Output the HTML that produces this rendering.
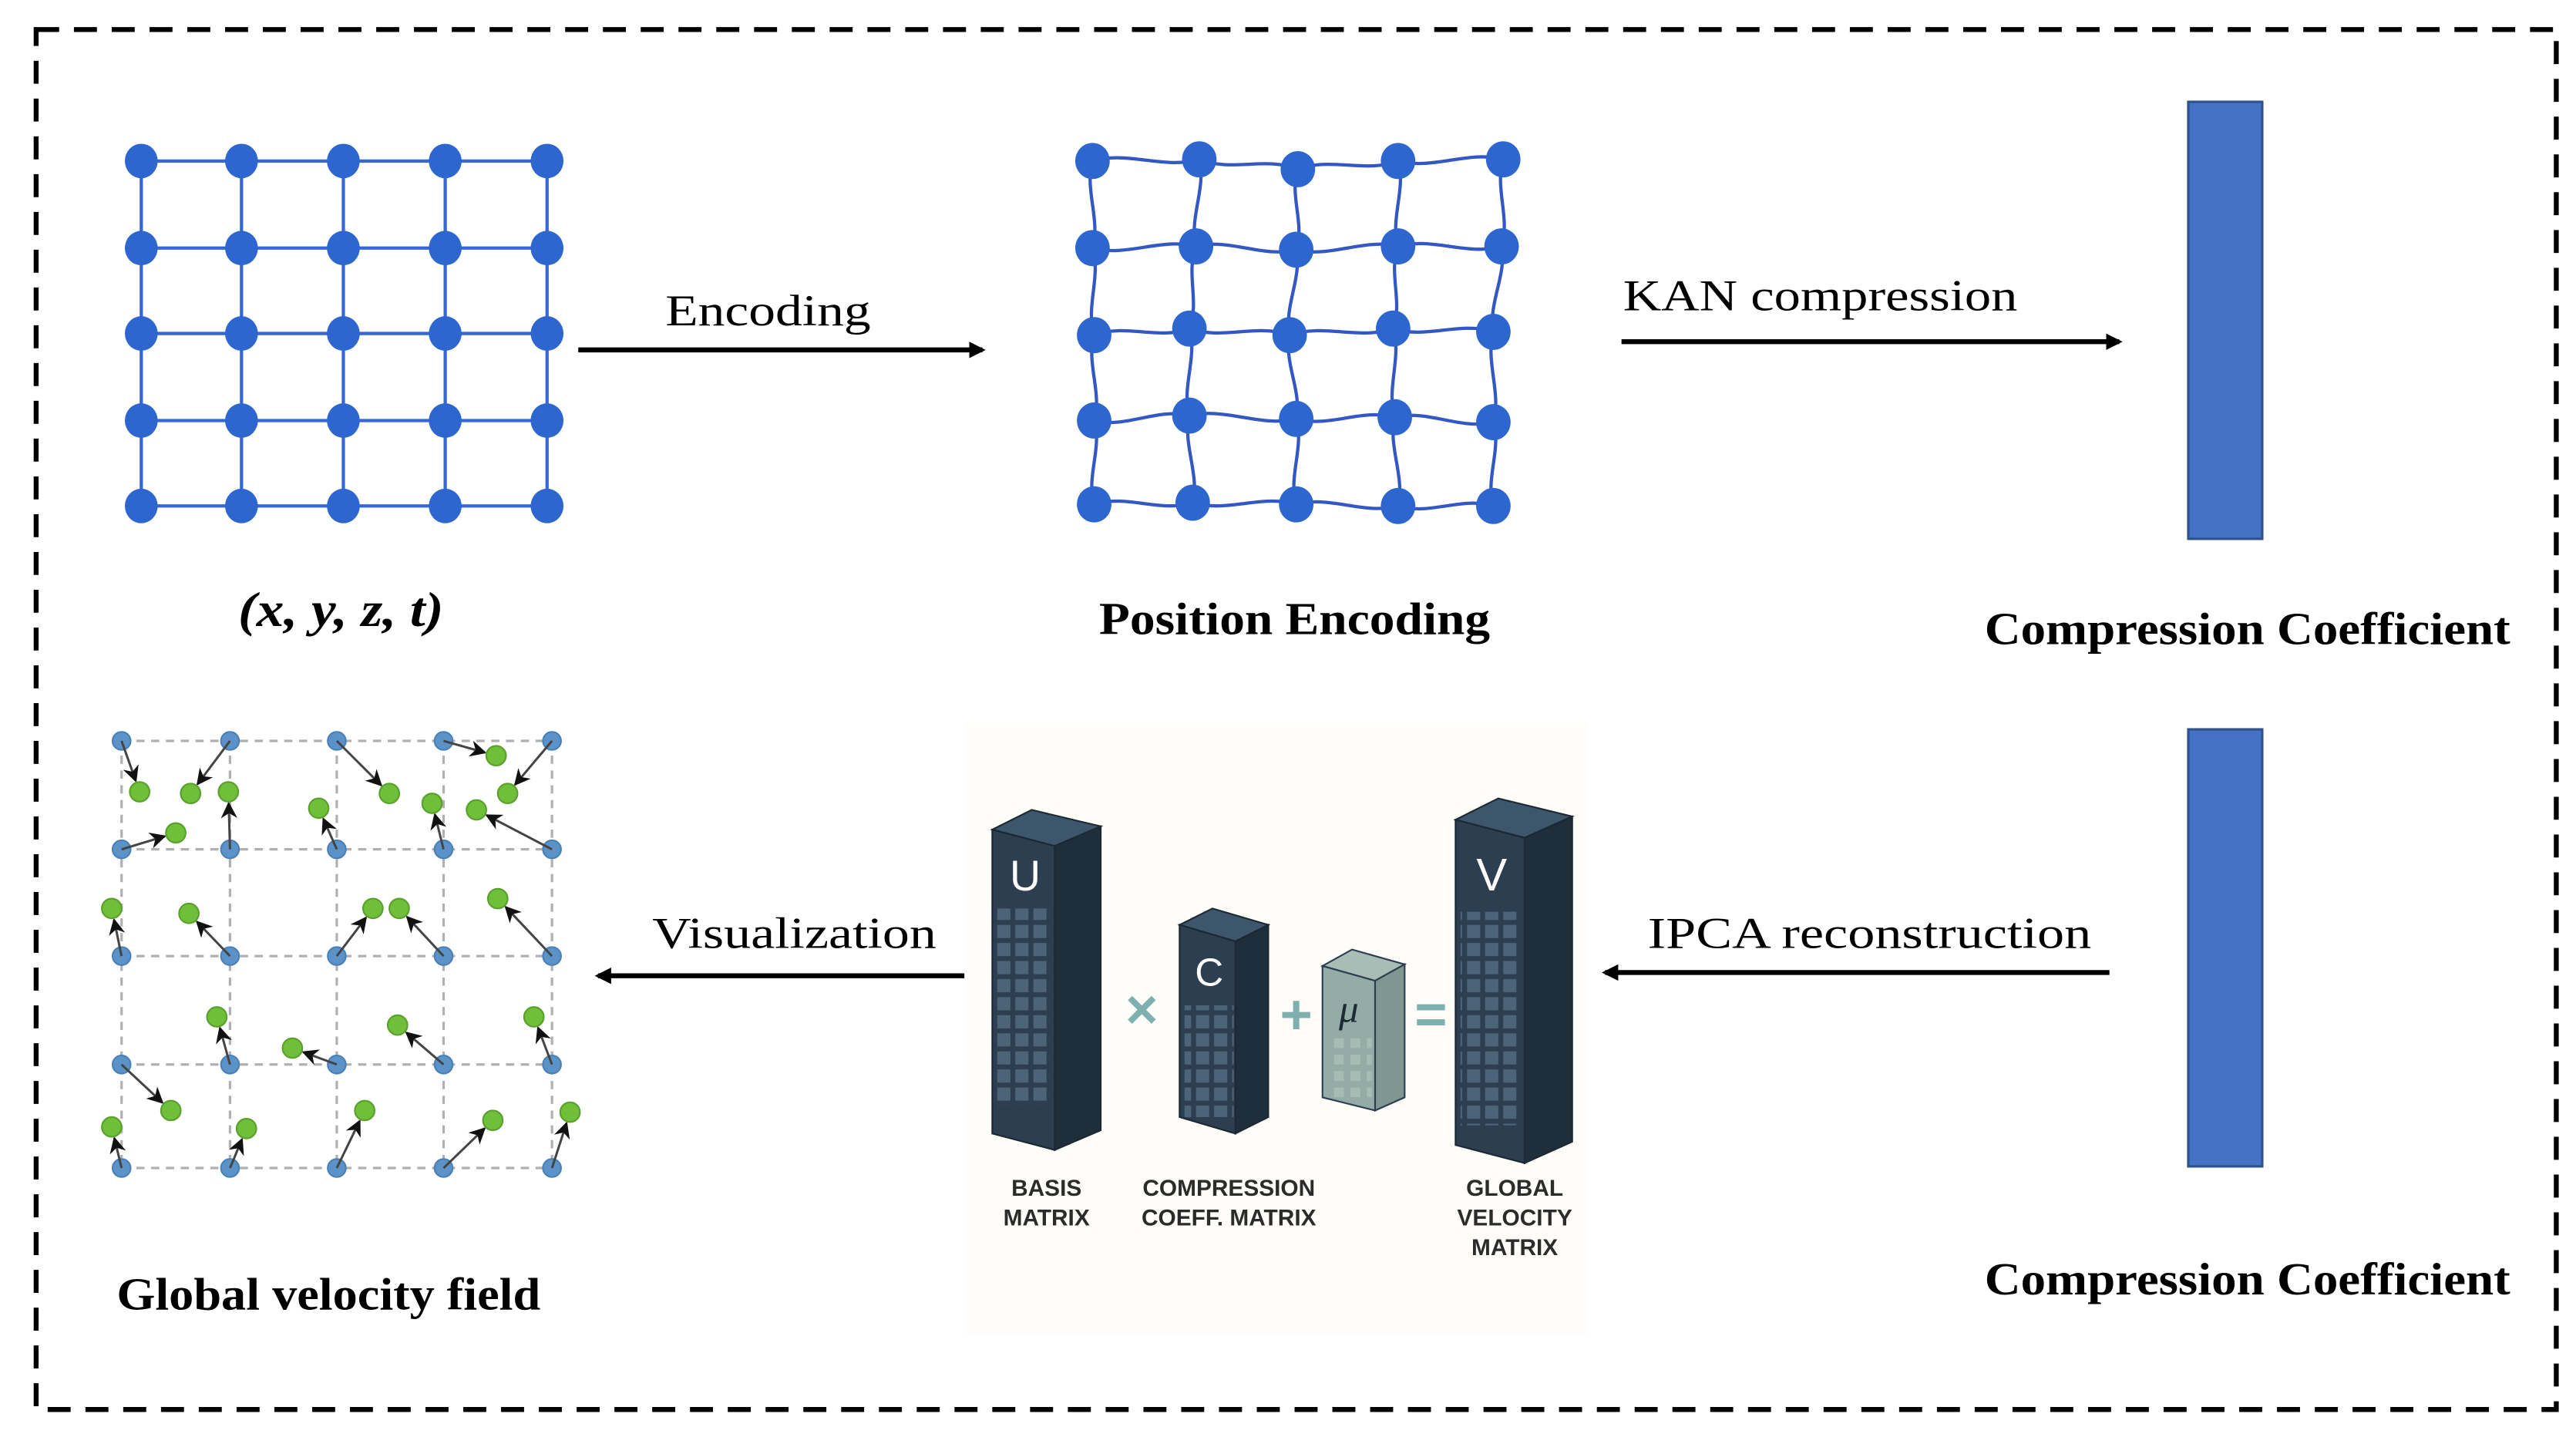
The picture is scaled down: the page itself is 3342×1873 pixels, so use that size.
<!DOCTYPE html>
<html><head><meta charset="utf-8"><style>
html,body{margin:0;padding:0;background:#fff;}
svg{display:block;}
.s{font-family:"Liberation Serif",serif;fill:#000;}
.b{font-family:"Liberation Sans",sans-serif;font-weight:bold;fill:#2b2b2b;font-size:14px;text-anchor:middle;}
</style></head><body>
<svg width="3342" height="1873" viewBox="0 0 1568 879" preserveAspectRatio="none" xmlns="http://www.w3.org/2000/svg">
<defs>
<marker id="ah" markerWidth="10" markerHeight="10" refX="8" refY="5" orient="auto" markerUnits="userSpaceOnUse"><path d="M0,0 L10,5 L0,10 z" fill="#000"/></marker>
<marker id="sa" markerWidth="10" markerHeight="10" refX="9" refY="5" orient="auto" markerUnits="userSpaceOnUse"><path d="M0,0 L10,5 L0,10 L3,5 z" fill="#111"/></marker>
<pattern id="win3" x="0" y="0" width="11" height="11" patternUnits="userSpaceOnUse"><rect x="2" y="2" width="8" height="8" fill="#4d6478"/></pattern>
<pattern id="winL" x="0" y="0" width="10" height="10" patternUnits="userSpaceOnUse"><rect x="2" y="2" width="6" height="6" fill="#a7bcb5"/></pattern>
</defs>
<rect width="1568" height="879" fill="#fff"/>
<rect x="22" y="18" width="1534" height="840" fill="none" stroke="#000" stroke-width="3" stroke-dasharray="14,9"/>

<g stroke="#3568d4" stroke-width="2">
<line x1="86" y1="98" x2="333" y2="98"/><line x1="86" y1="151" x2="333" y2="151"/><line x1="86" y1="203" x2="333" y2="203"/><line x1="86" y1="256" x2="333" y2="256"/><line x1="86" y1="308" x2="333" y2="308"/>
<line x1="86" y1="98" x2="86" y2="308"/><line x1="147" y1="98" x2="147" y2="308"/><line x1="209" y1="98" x2="209" y2="308"/><line x1="271" y1="98" x2="271" y2="308"/><line x1="333" y1="98" x2="333" y2="308"/>
</g>
<g fill="#2e66d0" id="g1"></g>
<script>
(function(){
var ns="http://www.w3.org/2000/svg";
function el(t,a,p){var e=document.createElementNS(ns,t);for(var k in a)e.setAttribute(k,a[k]);p.appendChild(e);return e;}
var g1=document.getElementById('g1');
[86,147,209,271,333].forEach(function(x){[98,151,203,256,308].forEach(function(y){el('ellipse',{cx:x,cy:y,rx:10,ry:10.5},g1);});});
})();
</script>

<g id="g2"></g>
<script>
(function(){
var ns="http://www.w3.org/2000/svg";
function el(t,a,p){var e=document.createElementNS(ns,t);for(var k in a)e.setAttribute(k,a[k]);p.appendChild(e);return e;}
var g=document.getElementById('g2');
var P=[[[665,98],[730,97],[790,103],[851,98],[915,97]],
[[665,151],[728,150],[789,152],[851,150],[914,150]],
[[666,204],[724,200],[785,204],[848,200],[909,202]],
[[666,256],[724,253],[789,255],[849,254],[909,257]],
[[666,307],[726,306],[789,307],[851,308],[909,308]]];
var d="";
for(var r=0;r<5;r++)for(var c=0;c<4;c++){var p=P[r][c],q=P[r][c+1],a=((r+c)%2?6:-6);
d+="M"+p[0]+","+p[1]+" C"+(p[0]+(q[0]-p[0])/3)+","+(p[1]+(q[1]-p[1])/3+a)+" "+(p[0]+2*(q[0]-p[0])/3)+","+(p[1]+2*(q[1]-p[1])/3-a)+" "+q[0]+","+q[1]+" ";}
for(var c=0;c<5;c++)for(var r=0;r<4;r++){var p=P[r][c],q=P[r+1][c],a=((r+c)%2?5:-5);
d+="M"+p[0]+","+p[1]+" C"+(p[0]+(q[0]-p[0])/3+a)+","+(p[1]+(q[1]-p[1])/3)+" "+(p[0]+2*(q[0]-p[0])/3-a)+","+(p[1]+2*(q[1]-p[1])/3)+" "+q[0]+","+q[1]+" ";}
el('path',{d:d,fill:'none',stroke:'#3358c4','stroke-width':2},g);
P.forEach(function(row){row.forEach(function(p){el('ellipse',{cx:p[0],cy:p[1],rx:10.5,ry:11,fill:'#2e66d0'},g);});});
})();
</script>

<text class="s" x="145" y="381" font-size="30" font-weight="bold" font-style="italic" textLength="125" lengthAdjust="spacingAndGlyphs">(x, y, z, t)</text>
<text class="s" x="405" y="198" font-size="27" textLength="125" lengthAdjust="spacingAndGlyphs">Encoding</text>
<line x1="352" y1="213" x2="598" y2="213" stroke="#000" stroke-width="3" marker-end="url(#ah)"/>
<text class="s" x="669" y="386" font-size="28" font-weight="bold" textLength="238" lengthAdjust="spacingAndGlyphs">Position Encoding</text>
<text class="s" x="988" y="189" font-size="27" textLength="240" lengthAdjust="spacingAndGlyphs">KAN compression</text>
<line x1="987" y1="208" x2="1290" y2="208" stroke="#000" stroke-width="3" marker-end="url(#ah)"/>
<rect x="1332" y="62" width="45" height="266" fill="#4472c4" stroke="#2f528f" stroke-width="1.5"/>
<text class="s" x="1208" y="392" font-size="28" font-weight="bold" textLength="320" lengthAdjust="spacingAndGlyphs">Compression Coefficient</text>

<rect x="1332" y="444" width="45" height="266" fill="#4472c4" stroke="#2f528f" stroke-width="1.5"/>
<text class="s" x="1208" y="788" font-size="28" font-weight="bold" textLength="320" lengthAdjust="spacingAndGlyphs">Compression Coefficient</text>
<text class="s" x="1003" y="577" font-size="27" textLength="270" lengthAdjust="spacingAndGlyphs">IPCA reconstruction</text>
<line x1="1284" y1="592" x2="977" y2="592" stroke="#000" stroke-width="3" marker-end="url(#ah)"/>
<text class="s" x="397" y="577" font-size="27" textLength="173" lengthAdjust="spacingAndGlyphs">Visualization</text>
<line x1="587" y1="594" x2="364" y2="594" stroke="#000" stroke-width="3" marker-end="url(#ah)"/>
<text class="s" x="71" y="797" font-size="28" font-weight="bold" textLength="258" lengthAdjust="spacingAndGlyphs">Global velocity field</text>

<rect x="588" y="440" width="378" height="372" fill="#fefdfa"/>
<polygon points="604,505 628,493 670,503 642,515" fill="#3e566b" stroke="#1c2833" stroke-width="1"/>
<polygon points="642,515 670,503 670,688 642,700" fill="#1f2e3b" stroke="#1c2833" stroke-width="1"/>
<polygon points="604,505 642,515 642,700 604,690" fill="#2c3e50" stroke="#1c2833" stroke-width="1"/>
<rect x="607" y="553" width="33" height="120" fill="url(#win3)"/>
<text x="624" y="542" font-family="Liberation Sans,sans-serif" font-size="26" fill="#fff" text-anchor="middle">U</text>
<polygon points="718,563 738,553 772,563 752,573" fill="#3e566b" stroke="#1c2833"/>
<polygon points="752,573 772,563 772,680 752,690" fill="#1f2e3b" stroke="#1c2833"/>
<polygon points="718,563 752,573 752,690 718,680" fill="#2c3e50" stroke="#1c2833"/>
<rect x="721" y="612" width="30" height="68" fill="url(#win3)"/>
<text x="736" y="600" font-family="Liberation Sans,sans-serif" font-size="24" fill="#fff" text-anchor="middle">C</text>
<polygon points="805,588 823,578 855,587 837,597" fill="#a9bdb6" stroke="#2c3e50"/>
<polygon points="837,597 855,587 855,668 837,676" fill="#7e9891" stroke="#2c3e50"/>
<polygon points="805,588 837,597 837,676 805,668" fill="#93aca5" stroke="#2c3e50"/>
<rect x="808" y="632" width="27" height="36" fill="url(#winL)"/>
<text x="821" y="622" font-family="Liberation Serif,serif" font-style="italic" font-size="24" fill="#1d2b36" text-anchor="middle">μ</text>
<polygon points="886,499 912,486 957,497 928,510" fill="#3e566b" stroke="#1c2833"/>
<polygon points="928,510 957,497 957,695 928,708" fill="#1f2e3b" stroke="#1c2833"/>
<polygon points="886,499 928,510 928,708 886,697" fill="#2c3e50" stroke="#1c2833"/>
<rect x="889" y="555" width="36" height="130" fill="url(#win3)"/>
<text x="908" y="542" font-family="Liberation Sans,sans-serif" font-size="28" fill="#fff" text-anchor="middle">V</text>
<g fill="#7fb0b0" font-family="Liberation Sans,sans-serif" font-size="34" font-weight="bold" text-anchor="middle">
<text x="695" y="626">×</text><text x="789" y="629">+</text><text x="871" y="629">=</text>
</g>
<text class="b" x="637" y="728">BASIS</text><text class="b" x="637" y="746">MATRIX</text>
<text class="b" x="748" y="728">COMPRESSION</text><text class="b" x="748" y="746">COEFF. MATRIX</text>
<text class="b" x="922" y="728">GLOBAL</text><text class="b" x="922" y="746">VELOCITY</text><text class="b" x="922" y="764">MATRIX</text>

<g stroke="#b0b0b0" stroke-width="1.5" stroke-dasharray="5,4" fill="none">
<line x1="74" y1="451" x2="336" y2="451"/><line x1="74" y1="517" x2="336" y2="517"/><line x1="74" y1="582" x2="336" y2="582"/><line x1="74" y1="648" x2="336" y2="648"/><line x1="74" y1="711" x2="336" y2="711"/>
<line x1="74" y1="451" x2="74" y2="711"/><line x1="140" y1="451" x2="140" y2="711"/><line x1="205" y1="451" x2="205" y2="711"/><line x1="270" y1="451" x2="270" y2="711"/><line x1="336" y1="451" x2="336" y2="711"/>
</g>
<g id="vf"></g>
<script>
(function(){
var ns="http://www.w3.org/2000/svg";
function el(t,a,p){var e=document.createElementNS(ns,t);for(var k in a)e.setAttribute(k,a[k]);p.appendChild(e);return e;}
var g=document.getElementById('vf');
var V=[[74,451,85,482],[140,451,116,483],[140,517,139,482],[74,517,107,507],[205,517,194,492],[205,451,237,483],[270,517,263,489],[270,451,302,460],[336,451,309,483],[336,517,290,493],
[74,582,68,553],[140,582,115,556],[205,582,227,553],[270,582,243,553],[336,582,303,547],
[140,648,132,619],[205,648,178,638],[270,648,242,624],[336,648,325,619],
[74,648,104,676],[74,711,68,686],[140,711,150,687],[205,711,222,676],[270,711,300,682],[336,711,347,677]];
var blues=[];[74,140,205,270,336].forEach(function(x){[451,517,582,648,711].forEach(function(y){blues.push([x,y]);});});
blues.forEach(function(b){el('circle',{cx:b[0],cy:b[1],r:5.5,fill:'#5b93c9',stroke:'#4a80b8','stroke-width':1},g);});
V.forEach(function(v){var dx=v[2]-v[0],dy=v[3]-v[1],L=Math.sqrt(dx*dx+dy*dy),s=(L-7)/L;
el('line',{x1:v[0],y1:v[1],x2:v[0]+dx*s,y2:v[1]+dy*s,stroke:'#444','stroke-width':1.4,'marker-end':'url(#sa)'},g);});
V.forEach(function(v){el('circle',{cx:v[2],cy:v[3],r:6,fill:'#6fbf3a',stroke:'#5aa02c','stroke-width':1},g);});
})();
</script>
</svg>
</body></html>
